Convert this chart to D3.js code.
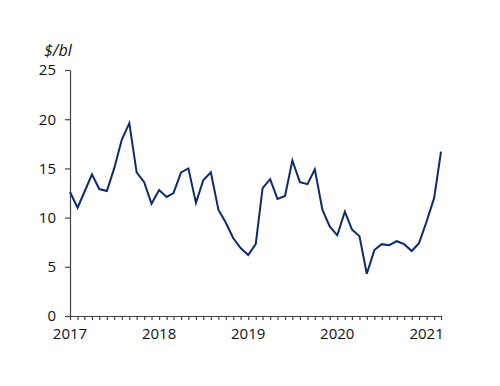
<!DOCTYPE html>
<html><head><meta charset="utf-8">
<script src="https://cdn.jsdelivr.net/npm/d3@7"></script>
<style>
body{margin:0;background:#fff;}
text{font-family:"Open Sans","Noto Sans",sans-serif;}
</style></head>
<body><svg id="c" width="500" height="386"></svg>
<script>
const startYear = 2017, startMonth = 0;
const values = [12.6,11.0,12.6,14.4,12.9,12.7,15.0,17.9,19.6,14.6,13.6,11.4,
  12.8,12.1,12.5,14.6,15.0,11.5,13.8,14.6,10.8,9.5,7.9,6.9,
  6.2,7.3,13.0,13.9,11.9,12.2,15.8,13.6,13.4,14.9,10.8,9.1,
  8.2,10.6,8.8,8.1,4.3,6.7,7.3,7.2,7.6,7.3,6.6,7.4,
  9.6,12.0,16.7];
const yTicks = [0,5,10,15,20,25];
const yearLabels = ["2017","2018","2019","2020","2021"];
const unitLabel = "$/bl";

(function(){
const dates = values.map((v,i)=>new Date(startYear, startMonth+i, 1));
const data = values.map((v,i)=>({d:dates[i], v}));

const svg = d3.select("#c");
const mL=70, mR=441, mT=70, mB=316;
const x = d3.scaleTime().domain([dates[0], dates[dates.length-1]]).range([mL,mR]);
const y = d3.scaleLinear().domain([0,25]).range([mB,mT]);

const ya = svg.append("g").attr("transform",`translate(${mL},0)`)
  .call(d3.axisLeft(y).tickValues(yTicks).tickSize(5).tickPadding(9).tickSizeOuter(0));
ya.attr("font-family",null);
ya.selectAll("text").attr("font-size",15).attr("fill","#111");
ya.selectAll("line,path").attr("stroke","#444").attr("stroke-width",1.2);

const xa = svg.append("g").attr("transform",`translate(0,${mB})`)
  .call(d3.axisBottom(x).tickValues(dates).tickSize(4).tickFormat("").tickSizeOuter(0));
xa.selectAll("line,path").attr("stroke","#444").attr("stroke-width",1.2);

const yearDates = yearLabels.map(s=>new Date(+s,0,1));
svg.append("g").selectAll("text").data(yearLabels).join("text")
  .attr("x",(d,i)=>x(yearDates[i])).attr("y",mB+23)
  .attr("text-anchor","middle").attr("font-size",15).attr("fill","#111").text(d=>d);

svg.append("text").attr("x",44).attr("y",56).attr("font-size",16).attr("font-style","italic")
  .attr("fill","#111").text(unitLabel);

svg.append("path").datum(data)
  .attr("fill","none").attr("stroke","#0c2a6e").attr("stroke-width",2).attr("stroke-linejoin","miter")
  .attr("d", d3.line().x(d=>x(d.d)).y(d=>y(d.v)));
})();
</script></body></html>
